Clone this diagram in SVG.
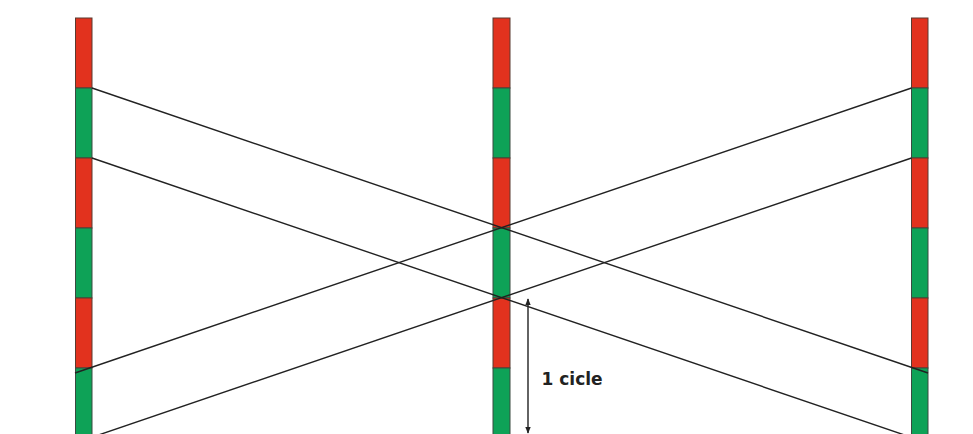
<svg xmlns="http://www.w3.org/2000/svg" width="973" height="434" viewBox="0 0 973 434">
<defs>
<style>
.r{fill:#e2321e;stroke:#5a3a30;stroke-width:1}
.g{fill:#0ea257;stroke:#3a4a40;stroke-width:1}
.ln{stroke:#222;stroke-width:1.4;fill:none}
.lbl{font-family:"DejaVu Sans",Verdana,sans-serif;font-weight:bold;font-size:17px;fill:#222}
</style>
<marker id="ah" viewBox="0 0 10 10" refX="9" refY="5" markerWidth="7" markerHeight="7" orient="auto-start-reverse" markerUnits="userSpaceOnUse">
<path d="M0,1 L10,5 L0,9 z" fill="#222"/>
</marker>
</defs>
<rect width="973" height="434" fill="#ffffff"/>
<g id="bar-left">
<rect class="r" x="75.5" y="18" width="16.5" height="70"/>
<rect class="g" x="75.5" y="88" width="16.5" height="70"/>
<rect class="r" x="75.5" y="158" width="16.5" height="70"/>
<rect class="g" x="75.5" y="228" width="16.5" height="70"/>
<rect class="r" x="75.5" y="298" width="16.5" height="70"/>
<rect class="g" x="75.5" y="368" width="16.5" height="70"/>
</g>
<g id="bar-middle">
<rect class="r" x="493" y="18" width="17" height="70"/>
<rect class="g" x="493" y="88" width="17" height="70"/>
<rect class="r" x="493" y="158" width="17" height="70"/>
<rect class="g" x="493" y="228" width="17" height="70"/>
<rect class="r" x="493" y="298" width="17" height="70"/>
<rect class="g" x="493" y="368" width="17" height="70"/>
</g>
<g id="bar-right">
<rect class="r" x="911.5" y="18" width="16.5" height="70"/>
<rect class="g" x="911.5" y="88" width="16.5" height="70"/>
<rect class="r" x="911.5" y="158" width="16.5" height="70"/>
<rect class="g" x="911.5" y="228" width="16.5" height="70"/>
<rect class="r" x="911.5" y="298" width="16.5" height="70"/>
<rect class="g" x="911.5" y="368" width="16.5" height="70"/>
</g>
<g id="connectors">
<line class="ln" x1="92" y1="88" x2="928" y2="373"/>
<line class="ln" x1="92" y1="158" x2="928" y2="443"/>
<line class="ln" x1="75" y1="373" x2="911.5" y2="88"/>
<line class="ln" x1="75" y1="443" x2="911.5" y2="158"/>
<line class="ln" x1="528" y1="299" x2="528" y2="433" marker-start="url(#ah)" marker-end="url(#ah)"/>
</g>
<g id="label">
<text class="lbl" x="541.5" y="385">1 cicle</text>
</g>
</svg>
